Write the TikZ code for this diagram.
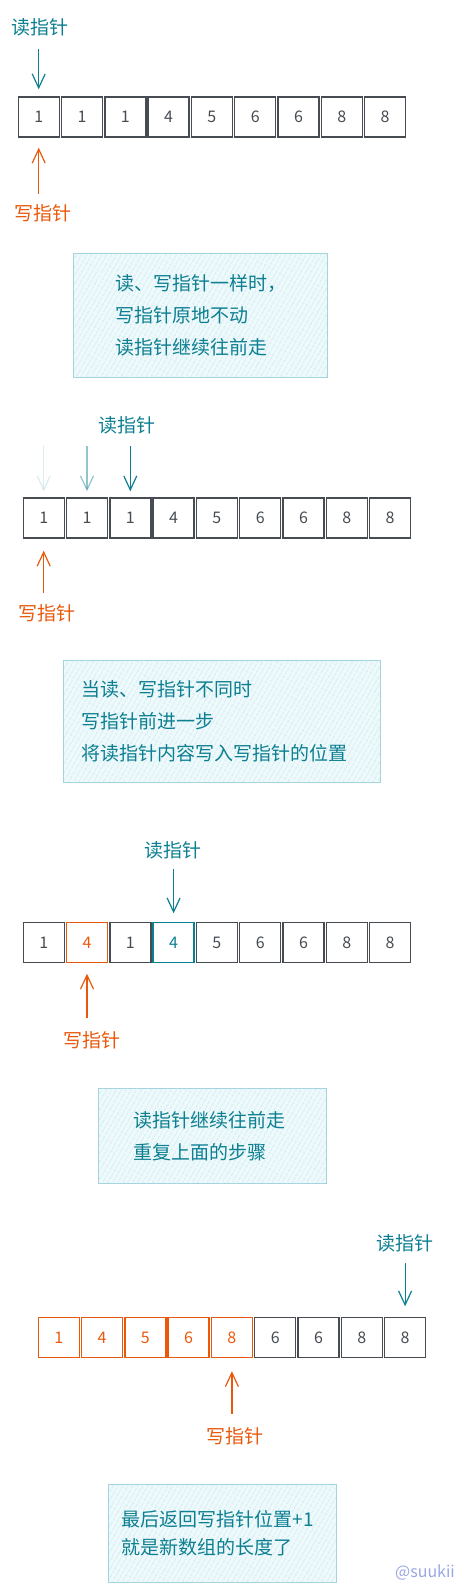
\documentclass[tikz,border=0pt]{standalone}
\usepackage{fontspec}
\setmainfont{Noto Sans CJK SC}
\usetikzlibrary{arrows.meta,patterns.meta}

\definecolor{inkgray}{HTML}{464C52}
\definecolor{inkteal}{HTML}{0C7F91}
\definecolor{inkorange}{HTML}{E8590C}
\definecolor{notefill}{HTML}{EEF9FB}
\definecolor{notehatch}{HTML}{BCE3EB}
\definecolor{noteline}{HTML}{A3D2DC}
\definecolor{signblue}{HTML}{9BA6E4}

\tikzset{
  cell/.style={draw=inkgray, text=inkgray, line width=1.4pt, minimum width=41pt,
    minimum height=40pt, inner sep=0pt, font=\fontsize{16}{16}\selectfont},
  wcell/.style={cell, draw=inkorange, text=inkorange},
  rcell/.style={cell, draw=inkteal, text=inkteal},
  rdlabel/.style={text=inkteal, inner sep=0pt, font=\fontsize{19}{19}\selectfont},
  wrlabel/.style={text=inkorange, inner sep=0pt, font=\fontsize{19}{19}\selectfont},
  rdarrow/.style={draw=inkteal, line width=1.2pt, -{Straight Barb[length=14pt,width=13pt]}},
  wrarrow/.style={draw=inkorange, line width=1.2pt, -{Straight Barb[length=14pt,width=13pt]}},
  note/.style={draw=noteline, line width=1pt, fill=notefill,
    postaction={pattern={Lines[angle=60,distance=4pt,line width=0.8pt]}, pattern color=notehatch},
    text=inkteal, align=left, anchor=north west, inner ysep=0pt,
    font=\fontsize{19}{32}\selectfont}
}

\begin{document}
\begin{tikzpicture}[x=1pt, y=-1pt]
  \useasboundingbox (0,0) rectangle (462,1596);

  % Krok 1 - oba ukazatele na zacatku
  \foreach \v [count=\i] in {1,1,1,4,5,6,6,8,8}
    \node[cell] (a\i) at ({38.7+43.3*(\i-1)},117) {\v};
  \node[rdlabel] (ra) at (40,27) {读指针};
  \node[wrlabel] (wa) at (43,213) {写指针};
  \draw[rdarrow] ([yshift=-13.5pt]ra.south -| a1) -- ([yshift=7pt]a1.north);
  \draw[wrarrow] ([yshift=10pt]wa.north -| a1) -- ([yshift=-10pt]a1.south);
  \node[note, minimum width=254pt, minimum height=124pt, inner xsep=42pt, text width=170pt]
    (na) at (73,253) {读、写指针一样时，\\写指针原地不动\\读指针继续往前走};

  % Krok 2 - cteci ukazatel jde dal
  \foreach \v [count=\i] in {1,1,1,4,5,6,6,8,8}
    \node[cell] (b\i) at ({43.7+43.3*(\i-1)},518) {\v};
  \node[rdlabel] (rb) at (127,425) {读指针};
  \node[wrlabel] (wb) at (47,613) {写指针};
  \draw[rdarrow, opacity=0.15] ([yshift=51pt]b1.north) -- ([yshift=6pt]b1.north);
  \draw[rdarrow, opacity=0.45] ([yshift=51pt]b2.north) -- ([yshift=6pt]b2.north);
  \draw[rdarrow] ([yshift=-12.5pt]rb.south -| b3) -- ([yshift=6pt]b3.north);
  \draw[wrarrow] ([yshift=11.5pt]wb.north -| b1) -- ([yshift=-12pt]b1.south);
  \node[note, minimum width=317pt, minimum height=122pt, inner xsep=18pt, text width=281pt]
    (nb) at (63,660) {当读、写指针不同时\\写指针前进一步\\将读指针内容写入写指针的位置};

  % Krok 3 - zapis na pozici zapisovaciho ukazatele
  \foreach \v/\s [count=\i] in {1/cell,4/wcell,1/cell,4/rcell,5/cell,6/cell,6/cell,8/cell,8/cell}
    \node[\s] (c\i) at ({43.7+43.3*(\i-1)},942.5) {\v};
  \node[rdlabel] (rc) at (173,850) {读指针};
  \node[wrlabel] (wc) at (92,1040) {写指针};
  \draw[rdarrow] ([yshift=-9.5pt]rc.south -| c4) -- ([yshift=8.5pt]c4.north);
  \draw[wrarrow] ([yshift=13.5pt]wc.north -| c2) -- ([yshift=-10.5pt]c2.south);
  \node[note, minimum width=228pt, minimum height=95pt, inner xsep=35pt, text width=158pt]
    (nc) at (98,1088) {读指针继续往前走\\重复上面的步骤};

  % Krok 4 - konec pole
  \foreach \v/\s [count=\i] in {1/wcell,4/wcell,5/wcell,6/wcell,8/wcell,6/cell,6/cell,8/cell,8/cell}
    \node[\s] (d\i) at ({58.7+43.3*(\i-1)},1337.5) {\v};
  \node[rdlabel] (rd) at (405,1243) {读指针};
  \node[wrlabel] (wd) at (235,1436) {写指针};
  \draw[rdarrow] ([yshift=-10.5pt]rd.south -| d9) -- ([yshift=10.5pt]d9.north);
  \draw[wrarrow] ([yshift=13.5pt]wd.north -| d5) -- ([yshift=-13pt]d5.south);
  \node[note, minimum width=228pt, minimum height=98pt, inner xsep=13pt, text width=202pt,
    font=\fontsize{19}{28}\selectfont]
    (nd) at (108,1484) {最后返回写指针位置+1\\就是新数组的长度了};

  \node[text=signblue, font=\fontsize{16}{16}\selectfont] (sign) at (425,1572) {@suukii};
\end{tikzpicture}
\end{document}
